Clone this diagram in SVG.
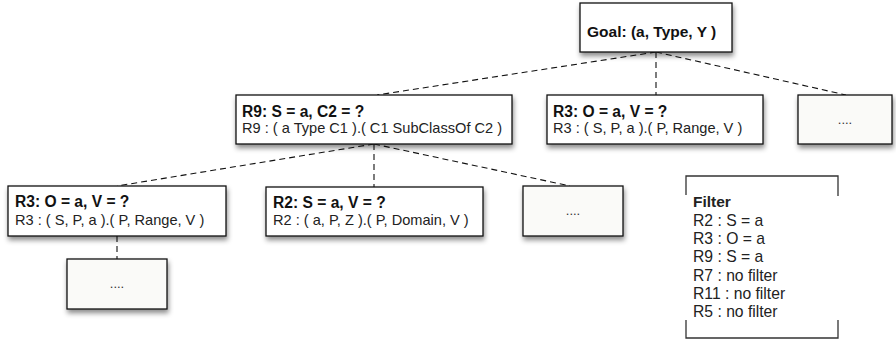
<svg xmlns="http://www.w3.org/2000/svg" width="896" height="340" viewBox="0 0 896 340">
<defs>
<filter id="sh" x="-10%" y="-20%" width="125%" height="160%">
<feDropShadow dx="1" dy="3.5" stdDeviation="2.5" flood-color="#000" flood-opacity="0.45"/>
</filter>
<style>
.box{fill:#ffffff;stroke:#111;stroke-width:1.3;filter:url(#sh)}
.dots{fill:#fafaf8;stroke:#111;stroke-width:1.3;filter:url(#sh)}
.b{font-family:"Liberation Sans",Arial,sans-serif;font-weight:bold;font-size:15.6px;fill:#111}
.r{font-family:"Liberation Sans",Arial,sans-serif;font-size:14.6px;fill:#222}
.d{font-family:"Liberation Sans",Arial,sans-serif;font-size:13px;fill:#333;text-anchor:middle}
.g{font-family:"Liberation Sans",Arial,sans-serif;font-weight:bold;font-size:15.5px;fill:#111}
.f{font-family:"Liberation Sans",Arial,sans-serif;font-size:15.7px;fill:#222}
.fb{font-family:"Liberation Sans",Arial,sans-serif;font-size:15.5px;font-weight:bold;fill:#222}
.c{stroke:#111;stroke-width:1.1;stroke-dasharray:6,4;fill:none}
.br{stroke:#333;stroke-width:1.3;fill:none}
</style>
</defs>
<g id="connectors">
<line class="c" x1="656" y1="52" x2="377" y2="95"/>
<line class="c" x1="656" y1="52" x2="656" y2="95"/>
<line class="c" x1="656" y1="52" x2="846" y2="95"/>
<line class="c" x1="374" y1="144" x2="117" y2="186"/>
<line class="c" x1="374" y1="144" x2="374" y2="187"/>
<line class="c" x1="374" y1="144" x2="570" y2="186"/>
<line class="c" x1="117" y1="236" x2="117" y2="259"/>
</g>
<g id="goal">
<rect class="box" x="580" y="3" width="152" height="49"/>
<text class="g" x="587" y="36.5">Goal: (a, Type, Y )</text>
</g>
<g id="r9">
<rect class="box" x="236" y="95" width="276" height="49"/>
<text class="b" x="242" y="116.5">R9: S = a, C2 = ?</text>
<text class="r" x="242" y="133">R9 : ( a Type C1 ).( C1 SubClassOf C2 )</text>
</g>
<g id="r3top">
<rect class="box" x="547" y="95" width="216" height="49"/>
<text class="b" x="553" y="116.5">R3: O = a, V = ?</text>
<text class="r" x="553" y="133">R3 : ( S, P, a ).( P, Range, V )</text>
</g>
<g id="dots-top">
<rect class="dots" x="798" y="95" width="94" height="49"/>
<text class="d" x="845" y="124">....</text>
</g>
<g id="r3left">
<rect class="box" x="8" y="186" width="218" height="50"/>
<text class="b" x="15" y="207">R3: O = a, V = ?</text>
<text class="r" x="15" y="224.5">R3 : ( S, P, a ).( P, Range, V )</text>
</g>
<g id="r2">
<rect class="box" x="266" y="187" width="217" height="49"/>
<text class="b" x="273" y="207.5">R2: S = a, V = ?</text>
<text class="r" x="273" y="224.5">R2 : ( a, P, Z ).( P, Domain, V )</text>
</g>
<g id="dots-mid">
<rect class="dots" x="523" y="186" width="100" height="50"/>
<text class="d" x="573" y="215">....</text>
</g>
<g id="dots-bottom">
<rect class="dots" x="67" y="259" width="100" height="50"/>
<text class="d" x="117" y="288">....</text>
</g>
<g id="filter">
<path class="br" d="M686,195 V176 H838 V196"/>
<path class="br" d="M686,320 V338 H838 V320"/>
<text class="fb" x="693" y="207">Filter</text>
<text class="f" x="693" y="225.5">R2 : S = a</text>
<text class="f" x="693" y="244">R3 : O = a</text>
<text class="f" x="693" y="262">R9 : S = a</text>
<text class="f" x="693" y="280.5">R7 : no filter</text>
<text class="f" x="693" y="299">R11 : no filter</text>
<text class="f" x="693" y="317">R5 : no filter</text>
</g>
</svg>
